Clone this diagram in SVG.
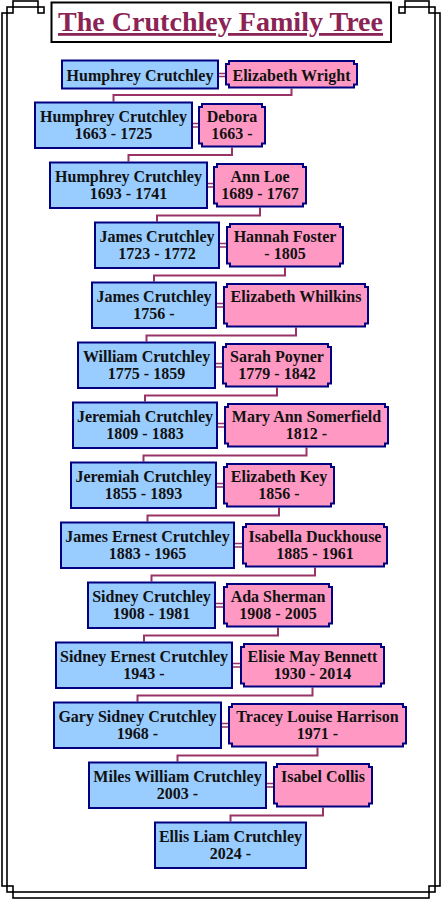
<svg xmlns="http://www.w3.org/2000/svg" width="443" height="900" viewBox="0 0 443 900">
<style>
.frame{fill:none;stroke:#000;stroke-width:1.6}
.m{fill:#99CCFF;stroke:#000080;stroke-width:2}
.f{fill:#FF99C4;stroke:#000080;stroke-width:2}
.t{font-family:"Liberation Serif","Times New Roman",serif;font-weight:bold;font-size:16px;fill:#111;text-anchor:middle}
.c{fill:none;stroke:#993366;stroke-width:2}
.eq{stroke:#993366;stroke-width:1.4}
.title{font-family:"Liberation Serif","Times New Roman",serif;font-weight:bold;font-size:28px;fill:#8B2455;text-decoration:underline}
</style>
<rect x="0" y="0" width="443" height="900" fill="#fff"/>
<g id="frame">
<rect class="frame" x="2" y="13" width="5" height="873"/>
<rect class="frame" x="435" y="13" width="5" height="873"/>
<rect class="frame" x="13" y="892" width="416" height="6"/>
<rect class="frame" x="13" y="1" width="25" height="6"/>
<rect class="frame" x="405" y="1" width="24" height="6"/>
<rect class="frame" x="7" y="7" width="6" height="6"/>
<rect class="frame" x="38" y="7" width="6" height="6"/>
<rect class="frame" x="399" y="7" width="6" height="6"/>
<rect class="frame" x="429" y="7" width="6" height="6"/>
<rect class="frame" x="7" y="886" width="6" height="6"/>
<rect class="frame" x="429" y="886" width="6" height="6"/>
</g>
<g id="title">
<rect x="51.5" y="2.5" width="339.5" height="39.5" fill="#fff" stroke="#000" stroke-width="2"/>
<text class="title" x="58" y="31" textLength="325" lengthAdjust="spacingAndGlyphs">The Crutchley Family Tree</text>
</g>
<g id="connectors">
<path class="c" d="M291.5 88.5V95H113.5V101.5"/>
<path class="c" d="M232 147.5V155H128.5V161.5"/>
<path class="c" d="M260 207.5V215.5H157V221.5"/>
<path class="c" d="M285 267.5V275.5H154V281.5"/>
<path class="c" d="M296 327.5V335.5H146.5V341.5"/>
<path class="c" d="M277 387.5V395.5H145V401.5"/>
<path class="c" d="M306.5 447.5V455.5H143.5V461.5"/>
<path class="c" d="M279 507.5V515.5H147.5V521.5"/>
<path class="c" d="M315 567.5V575.5H151.5V581.5"/>
<path class="c" d="M278 627.5V635.5H144V641.5"/>
<path class="c" d="M312.5 687.5V695.5H137.5V701.5"/>
<path class="c" d="M317.5 747.5V755.5H177.5V761.5"/>
<path class="c" d="M323 807.5V815.5H230.5V821.5"/>
<path class="eq" d="M219 73.5H225M219 76.5H225"/>
<path class="eq" d="M193 123.5H198M193 127H198"/>
<path class="eq" d="M208 183.5H213M208 187H213"/>
<path class="eq" d="M220 243.5H226M220 247H226"/>
<path class="eq" d="M217 303.5H223M217 307H223"/>
<path class="eq" d="M216 363.5H222M216 367H222"/>
<path class="eq" d="M218 423.5H224M218 427H224"/>
<path class="eq" d="M217 483.5H223M217 487H223"/>
<path class="eq" d="M235 543.5H242M235 547H242"/>
<path class="eq" d="M216 603.5H223M216 607H223"/>
<path class="eq" d="M233 663.5H240M233 667H240"/>
<path class="eq" d="M222 723.5H228M222 727H228"/>
<path class="eq" d="M267 783.5H273M267 787H273"/>
</g>
<g id="humphrey1">
<rect class="m" x="62" y="60.5" width="156" height="28"/>
<text class="t" x="140" y="80.5">Humphrey Crutchley</text>
</g>
<g id="elizabeth-wright">
<path class="f" d="M229 61H354V64H357V84.5H354V87.5H229V84.5H226V64H229Z"/>
<text class="t" x="291.5" y="80.5">Elizabeth Wright</text>
</g>
<g id="humphrey2">
<rect class="m" x="35" y="102.5" width="157" height="45.5"/>
<text class="t" x="113.5" y="121.5">Humphrey Crutchley</text>
<text class="t" x="113.5" y="139">1663 - 1725</text>
</g>
<g id="debora">
<path class="f" d="M202 104H262V107H265V143.5H262V146.5H202V143.5H199V107H202Z"/>
<text class="t" x="232" y="121.5">Debora</text>
<text class="t" x="232" y="139">1663 -</text>
</g>
<g id="humphrey3">
<rect class="m" x="50" y="162.5" width="157" height="45.5"/>
<text class="t" x="128.5" y="181.5">Humphrey Crutchley</text>
<text class="t" x="128.5" y="199">1693 - 1741</text>
</g>
<g id="ann-loe">
<path class="f" d="M217 164H303V167H306V203.5H303V206.5H217V203.5H214V167H217Z"/>
<text class="t" x="260" y="181.5">Ann Loe</text>
<text class="t" x="260" y="199">1689 - 1767</text>
</g>
<g id="james1">
<rect class="m" x="95" y="222.5" width="124" height="45.5"/>
<text class="t" x="157" y="241.5">James Crutchley</text>
<text class="t" x="157" y="259">1723 - 1772</text>
</g>
<g id="hannah-foster">
<path class="f" d="M230 224H340V227H343V263.5H340V266.5H230V263.5H227V227H230Z"/>
<text class="t" x="285" y="241.5">Hannah Foster</text>
<text class="t" x="285" y="259">- 1805</text>
</g>
<g id="james2">
<rect class="m" x="92" y="282.5" width="124" height="45.5"/>
<text class="t" x="154" y="301.5">James Crutchley</text>
<text class="t" x="154" y="319">1756 -</text>
</g>
<g id="elizabeth-whilkins">
<path class="f" d="M227 284H365V287H368V323.5H365V326.5H227V323.5H224V287H227Z"/>
<text class="t" x="296" y="301.5">Elizabeth Whilkins</text>
</g>
<g id="william">
<rect class="m" x="78" y="342.5" width="137" height="45.5"/>
<text class="t" x="146.5" y="361.5">William Crutchley</text>
<text class="t" x="146.5" y="379">1775 - 1859</text>
</g>
<g id="sarah-poyner">
<path class="f" d="M226 344H328V347H331V383.5H328V386.5H226V383.5H223V347H226Z"/>
<text class="t" x="277" y="361.5">Sarah Poyner</text>
<text class="t" x="277" y="379">1779 - 1842</text>
</g>
<g id="jeremiah1">
<rect class="m" x="73" y="402.5" width="144" height="45.5"/>
<text class="t" x="145" y="421.5">Jeremiah Crutchley</text>
<text class="t" x="145" y="439">1809 - 1883</text>
</g>
<g id="mary-ann">
<path class="f" d="M228 404H385V407H388V443.5H385V446.5H228V443.5H225V407H228Z"/>
<text class="t" x="306.5" y="421.5">Mary Ann Somerfield</text>
<text class="t" x="306.5" y="439">1812 -</text>
</g>
<g id="jeremiah2">
<rect class="m" x="71" y="462.5" width="145" height="45.5"/>
<text class="t" x="143.5" y="481.5">Jeremiah Crutchley</text>
<text class="t" x="143.5" y="499">1855 - 1893</text>
</g>
<g id="elizabeth-key">
<path class="f" d="M227 464H331V467H334V503.5H331V506.5H227V503.5H224V467H227Z"/>
<text class="t" x="279" y="481.5">Elizabeth Key</text>
<text class="t" x="279" y="499">1856 -</text>
</g>
<g id="james-ernest">
<rect class="m" x="61" y="522.5" width="173" height="45.5"/>
<text class="t" x="147.5" y="541.5">James Ernest Crutchley</text>
<text class="t" x="147.5" y="559">1883 - 1965</text>
</g>
<g id="isabella">
<path class="f" d="M246 524H384V527H387V563.5H384V566.5H246V563.5H243V527H246Z"/>
<text class="t" x="315" y="541.5">Isabella Duckhouse</text>
<text class="t" x="315" y="559">1885 - 1961</text>
</g>
<g id="sidney1">
<rect class="m" x="88" y="582.5" width="127" height="45.5"/>
<text class="t" x="151.5" y="601.5">Sidney Crutchley</text>
<text class="t" x="151.5" y="619">1908 - 1981</text>
</g>
<g id="ada">
<path class="f" d="M227 584H329V587H332V623.5H329V626.5H227V623.5H224V587H227Z"/>
<text class="t" x="278" y="601.5">Ada Sherman</text>
<text class="t" x="278" y="619">1908 - 2005</text>
</g>
<g id="sidney-ernest">
<rect class="m" x="56" y="642.5" width="176" height="45.5"/>
<text class="t" x="144" y="661.5">Sidney Ernest Crutchley</text>
<text class="t" x="144" y="679">1943 -</text>
</g>
<g id="elisie">
<path class="f" d="M244 644H381V647H384V683.5H381V686.5H244V683.5H241V647H244Z"/>
<text class="t" x="312.5" y="661.5">Elisie May Bennett</text>
<text class="t" x="312.5" y="679">1930 - 2014</text>
</g>
<g id="gary">
<rect class="m" x="54" y="702.5" width="167" height="45.5"/>
<text class="t" x="137.5" y="721.5">Gary Sidney Crutchley</text>
<text class="t" x="137.5" y="739">1968 -</text>
</g>
<g id="tracey">
<path class="f" d="M232 704H403V707H406V743.5H403V746.5H232V743.5H229V707H232Z"/>
<text class="t" x="317.5" y="721.5">Tracey Louise Harrison</text>
<text class="t" x="317.5" y="739">1971 -</text>
</g>
<g id="miles">
<rect class="m" x="89" y="762.5" width="177" height="45.5"/>
<text class="t" x="177.5" y="781.5">Miles William Crutchley</text>
<text class="t" x="177.5" y="799">2003 -</text>
</g>
<g id="isabel">
<path class="f" d="M277 764H369V767H372V803.5H369V806.5H277V803.5H274V767H277Z"/>
<text class="t" x="323" y="781.5">Isabel Collis</text>
</g>
<g id="ellis">
<rect class="m" x="155" y="822.5" width="151" height="45.5"/>
<text class="t" x="230.5" y="841.5">Ellis Liam Crutchley</text>
<text class="t" x="230.5" y="859">2024 -</text>
</g>
</svg>
